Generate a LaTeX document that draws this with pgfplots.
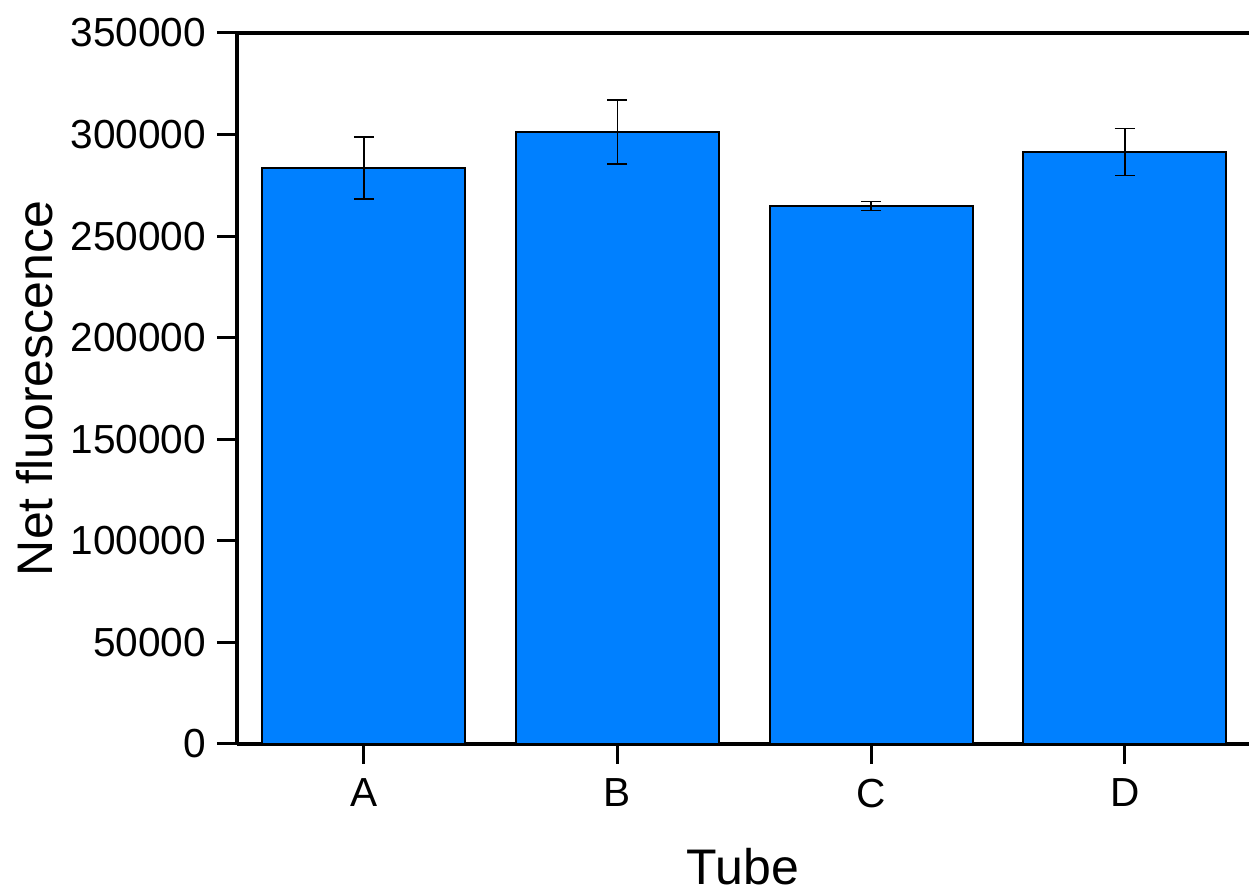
\documentclass[border=0pt]{standalone}
\usepackage{pgfplots}
\pgfplotsset{compat=1.18}
\usepackage{fontspec}
\setmainfont{Liberation Sans}
\definecolor{barblue}{HTML}{0080FF}
\begin{document}
\begin{tikzpicture}
\begin{axis}[
  name=ax, at={(0,0)}, anchor=south west,
  width=506pt, height=355.5pt, scale only axis,
  xmin=-0.5, xmax=3.49, ymin=0, ymax=350000,
  axis x line*=box, axis y line*=left,
  xtick pos=lower, ytick pos=left,
  xtick={0,1,2,3}, xticklabels={A,B,C,D},
  ytick={0,50000,100000,150000,200000,250000,300000,350000},
  scaled y ticks=false,
  /pgf/number format/.cd, fixed, 1000 sep={}, assume math mode=true, /pgfplots/.cd,
  tick align=outside, major tick length=10pt,
  tick style={line width=1.5pt, black},
  axis line style={line width=1.6pt},
  ticklabel style={font=\fontsize{20.3}{24}\selectfont},
  xticklabel style={yshift=-4pt},
  yticklabel style={xshift=-2pt},
  xlabel={Tube}, ylabel={Net fluorescence},
  every axis x label/.style={at={(axis description cs:0.5,-0.1725)}, anchor=center, font=\fontsize{25}{30}\selectfont},
  every axis y label/.style={at={(axis description cs:-0.1996,0.5)}, anchor=center, rotate=90, font=\fontsize{25}{30}\selectfont},
  ybar, bar width=101.5pt,
  clip=false,
]
\addplot[fill=barblue, draw=black, line width=1pt,
  error bars/.cd, y dir=both, y explicit,
  error bar style={line width=0.8pt, black},
  error mark options={rotate=90, mark size=5pt, line width=0.8pt, black}]
  coordinates {
    (0,283500) +- (0,15200)
    (1,301300) +- (0,15700)
    (2,264800) +- (0,2200)
    (3,291400) +- (0,11600)
  };
\end{axis}
\pgfresetboundingbox
\path (ax.south west) ++(-118.5pt,-74pt) coordinate (bl);
\path (ax.north east) ++(0pt,16.5pt) coordinate (tr);
\path[use as bounding box] (bl) rectangle (tr);
\end{tikzpicture}
\end{document}
